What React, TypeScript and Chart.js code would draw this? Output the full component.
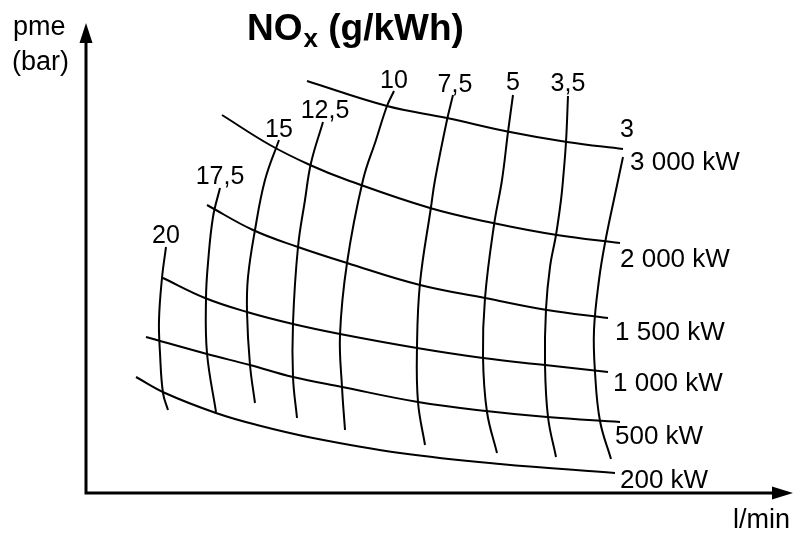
import { useEffect, useRef } from "react";
import { Chart, registerables } from "chart.js";

Chart.register(...registerables);

type Pt = [number, number];

// Power curves (x: l/min, arbitrary units; y: pme, arbitrary units)
const kw3000: Pt[] = [[22.1, 41.2], [30.1, 38.7], [36.1, 37.5], [42.4, 36.1], [48.1, 35.1], [53.7, 34.4]];
const kw2000: Pt[] = [[13.6, 37.8], [18.4, 34.8], [22.4, 32.8], [26.1, 31.3], [34.4, 28.5], [40.7, 27.0], [47.1, 25.8], [53.4, 25.0]];
const kw1500: Pt[] = [[12.1, 28.8], [16.7, 26.3], [21.2, 24.6], [26.1, 23.0], [33.4, 20.8], [39.9, 19.5], [46.1, 18.3], [52.2, 17.5]];
const kw1000: Pt[] = [[7.7, 21.5], [11.9, 19.5], [16.1, 18.1], [20.7, 16.9], [25.4, 15.9], [33.1, 14.5], [39.7, 13.5], [45.9, 12.8], [52.2, 12.1]];
const kw500: Pt[] = [[6.0, 15.6], [12.1, 13.9], [16.4, 12.8], [20.7, 11.6], [25.6, 10.6], [33.2, 9.1], [40.0, 8.2], [46.1, 7.6], [53.4, 7.1]];
const kw200: Pt[] = [[5.0, 11.6], [7.9, 10.0], [13.0, 8.0], [17.1, 6.8], [22.7, 5.5], [31.4, 4.0], [41.4, 2.9], [52.9, 2.0]];

// NOx iso-lines (g/kWh)
const nox20: Pt[] = [[8.0, 24.6], [7.6, 21.5], [7.3, 17.3], [7.4, 14.0], [7.7, 10.0], [8.2, 8.3]];
const nox175: Pt[] = [[13.4, 30.5], [12.7, 27.6], [12.2, 23.0], [12.0, 19.5], [12.1, 14.0], [13.0, 8.1]];
const nox15: Pt[] = [[19.3, 35.3], [17.9, 31.3], [16.9, 26.3], [16.2, 21.6], [16.1, 18.1], [16.4, 12.8], [16.9, 9.0]];
const nox125: Pt[] = [[23.7, 37.1], [22.5, 33.0], [21.9, 29.3], [21.2, 24.6], [20.7, 17.0], [20.7, 11.6], [21.1, 7.5]];
const nox10: Pt[] = [[30.8, 40.2], [30.1, 38.7], [29.0, 35.3], [27.7, 31.3], [26.1, 23.0], [25.4, 15.8], [25.6, 10.6], [25.9, 6.3]];
const nox75: Pt[] = [[36.7, 39.8], [36.1, 37.3], [34.9, 31.3], [34.5, 28.6], [33.4, 21.0], [33.1, 14.6], [33.2, 9.1], [33.9, 4.8]];
const nox5: Pt[] = [[42.7, 39.8], [42.2, 36.1], [41.6, 31.3], [40.8, 26.8], [39.9, 19.5], [39.7, 13.6], [40.1, 8.1], [41.1, 4.0]];
const nox35: Pt[] = [[48.2, 39.7], [48.0, 35.1], [47.7, 31.3], [47.5, 29.3], [47.0, 25.8], [46.4, 22.6], [46.0, 18.4], [45.9, 12.9], [46.2, 7.6], [47.0, 3.6]];
const nox3: Pt[] = [[53.7, 33.6], [53.0, 30.3], [51.9, 25.0], [51.3, 21.3], [50.8, 16.3], [50.9, 12.1], [51.4, 7.2], [52.5, 3.4]];

const powerLabels = ["3 000 kW", "2 000 kW", "1 500 kW", "1 000 kW", "500 kW", "200 kW"];
const powerSeries = [kw3000, kw2000, kw1500, kw1000, kw500, kw200];
const noxLabels = ["20", "17,5", "15", "12,5", "10", "7,5", "5", "3,5", "3"];
const noxSeries = [nox20, nox175, nox15, nox125, nox10, nox75, nox5, nox35, nox3];

const X_MAX = 70.7;
const Y_MAX = 47.0;

const FONT = '"Liberation Sans", Arial, Helvetica, sans-serif';

// label offsets in pixels (layout only)
const powerLabelOffsets: Pt[] = [[7, 14], [0, 17], [7, 15], [5, 12], [-5, 15], [5, 8]];
const noxLabelOffsets: Pt[] = [[0, -4], [0, -4], [0, -3], [2, -4], [0, -3], [2, -3], [0, -5], [0, -5], [4, -20]];

const overlayPlugin = {
  id: "overlay",
  afterDraw(chart: any) {
    const ctx = chart.ctx as CanvasRenderingContext2D;
    const { left, top, right, bottom } = chart.chartArea;
    const xs = chart.scales.x;
    const ys = chart.scales.y;
    ctx.save();
    ctx.fillStyle = "#000";
    ctx.strokeStyle = "#000";

    // axes
    ctx.lineWidth = 3;
    ctx.beginPath();
    ctx.moveTo(left, bottom + 1.5);
    ctx.lineTo(left, top + 18);
    ctx.moveTo(left - 1.5, bottom);
    ctx.lineTo(right - 19, bottom);
    ctx.stroke();
    ctx.beginPath();
    ctx.moveTo(left, top);
    ctx.lineTo(left - 6.5, top + 20);
    ctx.lineTo(left + 6.5, top + 20);
    ctx.closePath();
    ctx.fill();
    ctx.beginPath();
    ctx.moveTo(right, bottom);
    ctx.lineTo(right - 21, bottom - 6.5);
    ctx.lineTo(right - 21, bottom + 6.5);
    ctx.closePath();
    ctx.fill();

    // axis titles
    ctx.font = `27px ${FONT}`;
    ctx.textAlign = "left";
    ctx.textBaseline = "alphabetic";
    ctx.fillText("pme", left - 73, top + 12);
    ctx.fillText("(bar)", left - 74, top + 47);
    ctx.textAlign = "right";
    ctx.fillText("l/min", right - 3, bottom + 35);

    // title
    ctx.textAlign = "left";
    ctx.font = `bold 37px ${FONT}`;
    const tx = 247;
    ctx.fillText("NO", tx, 40);
    const w1 = ctx.measureText("NO").width;
    ctx.font = `bold 26px ${FONT}`;
    ctx.fillText("x", tx + w1 + 1, 47);
    const w2 = ctx.measureText("x").width;
    ctx.font = `bold 37px ${FONT}`;
    ctx.fillText(" (g/kWh)", tx + w1 + 1 + w2, 40);

    // NOx labels above top of each iso-line
    ctx.font = `25px ${FONT}`;
    ctx.textAlign = "center";
    ctx.textBaseline = "alphabetic";
    noxSeries.forEach((s, i) => {
      let topPt = s[0];
      s.forEach((p) => { if (p[1] > topPt[1]) topPt = p; });
      const px = xs.getPixelForValue(topPt[0]);
      const py = ys.getPixelForValue(topPt[1]);
      const [dx, dy] = noxLabelOffsets[i];
      ctx.fillText(noxLabels[i], px + dx, py + dy);
    });

    // power labels after end of each curve
    ctx.font = `26px ${FONT}`;
    ctx.textAlign = "left";
    ctx.textBaseline = "middle";
    powerSeries.forEach((s, i) => {
      const end = s[s.length - 1];
      const px = xs.getPixelForValue(end[0]);
      const py = ys.getPixelForValue(end[1]);
      const [dx, dy] = powerLabelOffsets[i];
      ctx.fillText(powerLabels[i], px + dx, py + dy);
    });
    ctx.restore();
  },
};

export default function App() {
  const ref = useRef<HTMLCanvasElement | null>(null);
  useEffect(() => {
    document.body.style.margin = "0";
    const canvas = ref.current;
    if (!canvas) return;
    const toData = (s: Pt[]) => s.map(([x, y]) => ({ x, y }));
    const mk = (s: Pt[]) => ({
      data: toData(s),
      showLine: true,
      borderColor: "#000",
      borderWidth: 2,
      pointRadius: 0,
      pointHoverRadius: 0,
      tension: 0.4,
      fill: false,
      clip: false as any,
    });
    const chart = new Chart(canvas, {
      type: "scatter",
      data: {
        datasets: [...powerSeries.map(mk), ...noxSeries.map(mk)],
      },
      options: {
        animation: false,
        responsive: false,
        maintainAspectRatio: false,
        devicePixelRatio: 1,
        layout: { padding: { left: 86, top: 23, right: 4, bottom: 43 } },
        plugins: { legend: { display: false }, tooltip: { enabled: false }, title: { display: false } },
        events: [],
        scales: {
          x: { type: "linear", display: false, min: 0, max: X_MAX },
          y: { type: "linear", display: false, min: 0, max: Y_MAX },
        },
      },
      plugins: [overlayPlugin],
    });
    return () => chart.destroy();
  }, []);
  return (
    <div style={{ width: 797, height: 536, background: "#fff" }}>
      <canvas ref={ref} width={797} height={536} style={{ display: "block" }} />
    </div>
  );
}
